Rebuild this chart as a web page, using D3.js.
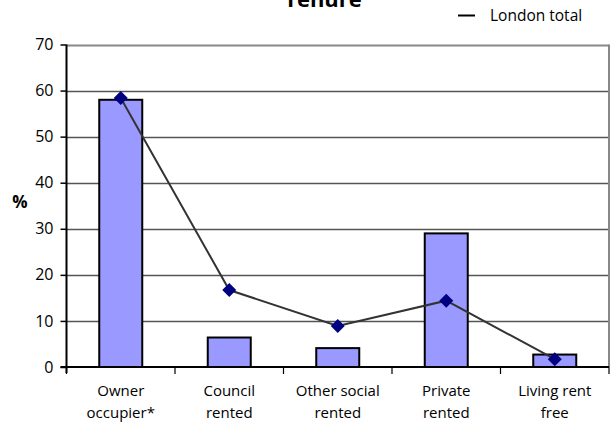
<!DOCTYPE html>
<html><head><meta charset="utf-8">
<script src="https://cdn.jsdelivr.net/npm/d3@7"></script>
<style>body{margin:0;background:#fff}svg{display:block}text{font-family:"Open Sans",sans-serif}</style>
</head><body><svg id="c" width="616" height="428"></svg>
<script>
const categories = [["Owner","occupier*"],["Council","rented"],["Other social","rented"],["Private","rented"],["Living rent","free"]];
const barValues = [58.0, 6.4, 4.1, 29.0, 2.7];
const londonTotal = [58.4, 16.7, 8.9, 14.4, 1.7];
const yTicks = [0,10,20,30,40,50,60,70];
const title = "Tenure";
const legendLabel = "London total";

const svg = d3.select("#c");
const L = 66.5, R = 609, T = 44.5, B = 367;
const x = d3.scaleBand().domain(d3.range(categories.length)).range([L, R]).paddingInner(0).paddingOuter(0);
const y = d3.scaleLinear().domain([0,70]).range([B, T]);

// gridlines
svg.append("g").selectAll("line").data(yTicks.filter(d=>d>0)).join("line")
  .attr("x1", L).attr("x2", R).attr("y1", d=>Math.round(y(d))+0.5).attr("y2", d=>Math.round(y(d))+0.5)
  .attr("stroke", d=>d===70?"#888":"#555").attr("stroke-width", d=>d===70?2:1.3);
// right border
svg.append("line").attr("x1", R).attr("x2", R).attr("y1", T).attr("y2", B).attr("stroke","#888").attr("stroke-width",2);

// bars
const bw = 43;
svg.append("g").selectAll("rect").data(barValues).join("rect")
  .attr("x", (d,i)=>x(i)+x.bandwidth()/2-bw/2).attr("width", bw)
  .attr("y", d=>y(d)).attr("height", d=>B-y(d))
  .attr("fill","#9999FF").attr("stroke","#000").attr("stroke-width",2);

// y axis
const ya = d3.axisLeft(y).tickValues(yTicks).tickSize(6).tickPadding(7).tickFormat(d3.format("d"));
const gy = svg.append("g").attr("transform",`translate(${L},0)`).call(ya);
gy.select(".domain").attr("stroke","#000").attr("stroke-width",2).attr("d",`M0,${T}V${B+6}`);
gy.selectAll(".tick line").attr("stroke","#000").attr("stroke-width",1.5);
gy.selectAll("text").attr("font-size",16).attr("fill","#000").attr("font-family","Open Sans, sans-serif");

// x axis
const xa = d3.axisBottom(x).tickSize(0).tickFormat("");
const gx = svg.append("g").attr("transform",`translate(0,${B})`).call(xa);
gx.select(".domain").attr("stroke","#000").attr("stroke-width",2).attr("d",`M${L-6},0H${R}`);
const bounds = d3.range(categories.length+1).map(i=> i<categories.length ? x(i) : R);
gx.selectAll(".btick").data(bounds).join("line").attr("class","btick")
  .attr("x1", d=>d).attr("x2", d=>d).attr("y1",0).attr("y2",7).attr("stroke","#000").attr("stroke-width",1.2);
gx.selectAll(".tick").each(function(d,i){
  const t = d3.select(this).append("text").attr("fill","#000").attr("font-size",15)
    .attr("text-anchor","middle").attr("font-family","Open Sans, sans-serif");
  categories[i].forEach((s,k)=>t.append("tspan").attr("x",0).attr("y",29+k*22).text(s));
});

// line
const cx = i=>x(i)+x.bandwidth()/2;
svg.append("path").datum(londonTotal)
  .attr("d", d3.line().x((d,i)=>cx(i)).y(d=>y(d)))
  .attr("fill","none").attr("stroke","#333").attr("stroke-width",2);
svg.append("g").selectAll("path").data(londonTotal).join("path")
  .attr("transform",(d,i)=>`translate(${cx(i)},${y(d)})`)
  .attr("d","M0,-7L7,0L0,7L-7,0Z").attr("fill","#000080");

// title
svg.append("text").attr("x",323).attr("y",7).attr("text-anchor","middle")
  .attr("font-size",22).attr("font-weight","bold").attr("fill","#000").text(title);

// y label
svg.append("text").attr("x",20).attr("y",208).attr("text-anchor","middle")
  .attr("font-size",17).attr("font-weight","bold").attr("fill","#000").text("%");

// legend
svg.append("line").attr("x1",458).attr("x2",475).attr("y1",15.5).attr("y2",15.5).attr("stroke","#000").attr("stroke-width",2);
svg.append("text").attr("x",490).attr("y",21).attr("font-size",15.5).attr("fill","#000").text(legendLabel);
</script></body></html>
